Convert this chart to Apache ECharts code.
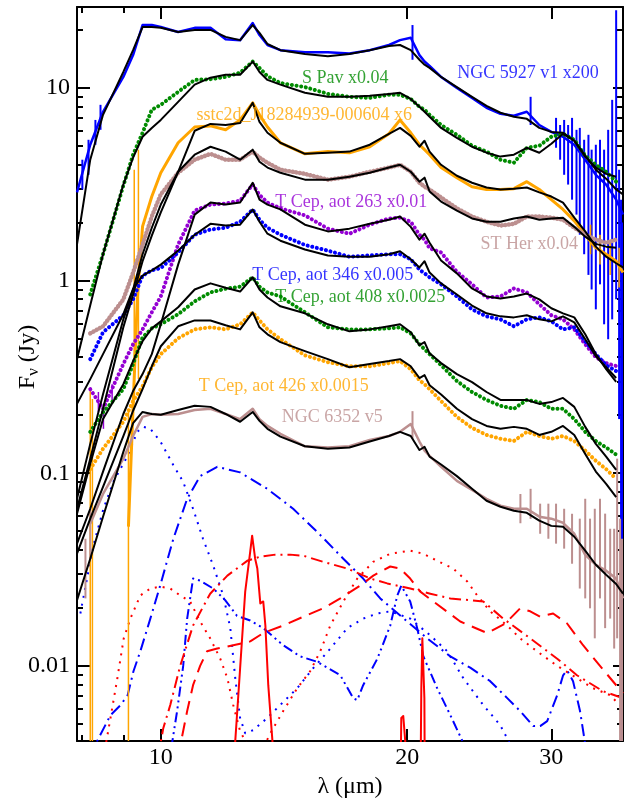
<!DOCTYPE html>
<html>
<head>
<meta charset="utf-8">
<script src="https://cdn.jsdelivr.net/npm/echarts@6/dist/echarts.min.js"></script>
<style>html,body{margin:0;padding:0;background:#fff}#c{width:634px;height:804px}</style>
</head>
<body>
<div id="c"></div>
<script>
// ---------------- data (wavelength in micron, flux in Jy) ----------------
const lamGrid = [7.9, 8.2, 8.5, 9.0, 9.25, 9.5, 9.75, 10, 10.5, 11, 11.5, 12, 12.5, 12.95, 13.2, 13.5, 14, 15, 16, 17, 18, 19, 19.6, 20.2, 20.7, 21.0, 21.3, 22, 23, 24, 25, 26, 27, 28, 29, 30, 31, 32, 33, 34, 35, 36, 36.7];

const ngc5927Data = [2.87, 5.07, 7.52, 11.4, 14.8, 21.2, 21.2, 20.7, 19.5, 20.5, 20.5, 17.9, 17.7, 21.7, 18.8, 16.7, 15.7, 15.3, 15.3, 15.1, 15.7, 16.7, 17.7, 18.2, 14.8, 13.7, 13.0, 11.4, 10.0, 8.88, 7.88, 7.34, 7.17, 7.52, 6.42, 5.91, 5.58, 5.07, 4.24, 3.54, 3.15, 2.63, 2.20];
const ngc5927Model = [1.54, 4.24, 7.25, 12.1, 15.7, 20.7, 20.7, 20.5, 19.5, 20.0, 20.0, 18.4, 17.7, 21.2, 19.3, 16.9, 15.7, 15.0, 14.6, 15.0, 15.7, 16.5, 16.7, 15.7, 14.0, 13.2, 12.7, 11.4, 10.1, 8.99, 8.07, 7.43, 7.08, 6.91, 6.20, 5.91, 5.85, 5.32, 4.45, 3.76, 3.38, 2.97, 2.80];
const sPavData = [null, 0.847, 1.37, 3.11, 4.50, 5.85, 7.70, 8.17, 9.54, 11.0, 11.1, 11.4, 12.0, 13.7, 12.7, 11.5, 10.6, 10.1, 9.31, 8.99, 8.88, 9.21, 9.21, 8.77, 7.98, 7.70, 7.25, 6.42, 5.71, 5.01, 4.67, 4.24, 4.09, 4.89, 5.01, 5.58, 5.78, 5.38, 4.45, 3.99, 3.67, 3.26, null];
const sPavModel = [0.39, 0.744, 1.37, 3.15, 4.35, 5.58, 6.20, 6.82, 8.46, 10.4, 11.3, 11.7, 11.7, 13.7, 12.1, 11.0, 10.4, 9.43, 8.99, 8.99, 9.10, 9.31, 9.43, 8.77, 7.98, 7.52, 7.08, 6.20, 5.51, 4.95, 4.61, 4.40, 4.50, 4.89, 4.61, 5.13, 5.78, 5.32, 4.40, 3.86, 3.58, 3.46, null];
const sstc2dLeadLam = [9.13, 9.36];
const sstc2dLeadFlux = [0.0528, 0.799];
const sstc2dData = [null, null, null, null, null, 1.91, 2.73, 3.63, 5.19, 6.27, 6.35, 6.06, 6.82, 8.37, 7.25, 6.27, 5.19, 4.55, 4.67, 4.61, 4.95, 5.78, 6.82, 5.85, 5.07, 4.78, 4.50, 3.86, 3.42, 3.07, 2.97, 2.97, 3.00, 3.26, 2.97, 2.63, 2.34, 2.04, 1.73, 1.48, 1.37, 1.26, 1.10];
const sstc2dModel = [0.0654, 0.119, 0.216, 0.572, 0.847, 1.26, 1.71, 2.26, 3.67, 5.99, 6.50, 6.42, 6.58, 8.37, 6.66, 5.85, 5.19, 4.55, 4.61, 4.67, 5.07, 5.78, 6.20, 5.64, 4.95, 5.32, 4.67, 3.99, 3.50, 3.22, 3.04, 2.97, 3.00, 3.04, 2.87, 2.73, 2.54, 2.12, 1.80, 1.50, 1.33, 1.23, 1.17];
const stHerData = [null, 0.532, 0.579, 0.799, 1.10, 1.54, 2.15, 2.80, 3.63, 4.24, 4.55, 4.24, 4.24, 4.67, 4.35, 4.09, 3.76, 3.58, 3.34, 3.46, 3.67, 3.86, 3.99, 3.67, 3.22, 3.07, 2.97, 2.70, 2.37, 2.15, 2.02, 1.93, 1.97, 2.15, 2.15, 2.12, 2.07, 1.88, 1.73, 1.63, 1.57, 1.63, null];
const stHerModel = [0.0737, 0.142, 0.257, 0.629, 0.899, 1.37, 1.88, 2.48, 3.67, 4.50, 4.95, 4.67, 4.24, 4.78, 4.14, 3.86, 3.63, 3.34, 3.34, 3.46, 3.63, 3.86, 3.99, 3.67, 3.26, 3.42, 2.90, 2.57, 2.31, 2.10, 2.02, 2.02, 2.10, 2.15, 2.07, 2.10, 2.12, 1.90, 1.69, 1.55, 1.50, 1.48, null];
const tCep263Data = [null, 0.273, 0.216, 0.369, 0.467, 0.558, 0.684, 0.827, 1.54, 2.31, 2.48, 2.51, 2.60, 3.15, 2.78, 2.54, 2.37, 2.18, 1.86, 1.75, 1.95, 2.10, 2.12, 2.02, 1.73, 1.63, 1.47, 1.40, 1.11, 0.956, 0.817, 0.827, 0.910, 0.868, 0.753, 0.661, 0.629, 0.558, 0.467, 0.400, 0.373, 0.360, null];
const tCep263Model = [0.0431, 0.0654, 0.102, 0.203, 0.267, 0.327, 0.415, 0.593, 1.21, 2.20, 2.54, 2.48, 2.54, 3.22, 2.63, 2.48, 2.34, 1.95, 1.80, 1.86, 1.97, 2.07, 2.15, 1.90, 1.63, 1.75, 1.57, 1.27, 1.09, 0.910, 0.827, 0.808, 0.827, 0.856, 0.799, 0.718, 0.676, 0.644, 0.526, 0.415, 0.347, 0.298, null];
const tCep346Data = [null, 0.391, 0.539, 0.661, 0.799, 1.06, 1.13, 1.16, 1.40, 1.73, 1.84, 1.88, 2.02, 2.34, 2.07, 1.88, 1.73, 1.53, 1.43, 1.33, 1.35, 1.37, 1.37, 1.29, 1.14, 1.09, 1.04, 0.956, 0.827, 0.709, 0.652, 0.629, 0.579, 0.629, 0.644, 0.614, 0.558, 0.572, 0.484, 0.415, 0.364, 0.339, null];
const tCep346Model = [0.229, 0.308, 0.415, 0.669, 0.907, 1.06, 1.13, 1.21, 1.43, 1.73, 1.97, 1.93, 1.95, 2.34, 2.02, 1.75, 1.61, 1.45, 1.35, 1.33, 1.33, 1.37, 1.42, 1.29, 1.17, 1.26, 1.10, 0.967, 0.847, 0.742, 0.676, 0.652, 0.644, 0.661, 0.629, 0.614, 0.652, 0.607, 0.496, 0.405, 0.355, 0.312, null];
const tCep408Data = [null, 0.164, 0.207, 0.273, 0.369, 0.507, 0.565, 0.593, 0.669, 0.780, 0.868, 0.907, 0.929, 1.04, 0.929, 0.868, 0.827, 0.684, 0.572, 0.558, 0.558, 0.565, 0.572, 0.532, 0.467, 0.440, 0.415, 0.364, 0.301, 0.264, 0.240, 0.224, 0.216, 0.240, 0.234, 0.216, 0.216, 0.191, 0.164, 0.147, 0.136, 0.125, null];
const tCep408Model = [0.0616, 0.112, 0.191, 0.290, 0.382, 0.484, 0.565, 0.614, 0.727, 0.899, 0.967, 0.918, 0.877, 1.04, 0.899, 0.817, 0.735, 0.676, 0.593, 0.545, 0.558, 0.579, 0.593, 0.539, 0.462, 0.479, 0.419, 0.373, 0.327, 0.297, 0.264, 0.240, 0.240, 0.240, 0.229, 0.234, 0.246, 0.221, 0.174, 0.142, 0.122, 0.104, null];
const tCep426Data = [null, 0.105, 0.134, 0.185, 0.237, 0.283, 0.355, 0.415, 0.502, 0.558, 0.572, 0.558, 0.593, 0.684, 0.621, 0.558, 0.496, 0.409, 0.377, 0.359, 0.359, 0.373, 0.382, 0.347, 0.304, 0.290, 0.273, 0.237, 0.196, 0.172, 0.158, 0.151, 0.147, 0.164, 0.156, 0.151, 0.156, 0.147, 0.131, 0.116, 0.105, 0.0935, null];
const tCep426Model = [0.0383, 0.0581, 0.0850, 0.156, 0.211, 0.273, 0.359, 0.456, 0.579, 0.621, 0.621, 0.586, 0.558, 0.684, 0.572, 0.526, 0.479, 0.430, 0.391, 0.355, 0.369, 0.382, 0.391, 0.359, 0.312, 0.323, 0.286, 0.256, 0.216, 0.191, 0.176, 0.170, 0.174, 0.170, 0.158, 0.164, 0.176, 0.158, 0.126, 0.102, 0.0881, 0.0752, null];
const ngc6352Data = [null, 0.0547, 0.0781, 0.119, 0.156, 0.196, 0.203, 0.201, 0.203, 0.213, 0.216, 0.203, 0.191, 0.216, 0.191, 0.176, 0.160, 0.138, 0.136, 0.138, 0.149, 0.156, 0.164, 0.180, 0.146, 0.131, 0.123, 0.108, 0.0913, 0.0820, 0.0737, 0.0679, 0.0654, 0.0654, 0.0595, 0.0581, 0.0553, 0.0485, 0.0377, 0.0335, 0.0312, 0.0284, 0.0224];
const ngc6352Model = [0.0219, 0.0360, 0.0594, 0.129, 0.182, 0.208, 0.203, 0.201, 0.213, 0.224, 0.221, 0.203, 0.185, 0.208, 0.187, 0.170, 0.155, 0.138, 0.134, 0.136, 0.146, 0.156, 0.164, 0.156, 0.132, 0.137, 0.122, 0.111, 0.0966, 0.0830, 0.0720, 0.0670, 0.0638, 0.0623, 0.0567, 0.0533, 0.0527, 0.0468, 0.0396, 0.0335, 0.0297, 0.0266, 0.0237];

// error bars: wavelength, low, high
const ngc5927ErrLam = [8.02, 8.16, 8.32, 8.44, 20.3, 28.3, 30.4, 30.75, 31.1, 31.45, 31.8, 32.2, 32.5, 32.9, 33.3, 33.6, 34.0, 34.4, 34.8, 35.2, 35.6, 36.0, 36.3, 36.5, 36.6];
const ngc5927ErrLo = [2.97, 3.54, 5.07, 6.06, 14.0, 6.42, 4.89, 4.24, 3.54, 3.15, 2.63, 2.20, 1.73, 1.37, 1.07, 0.899, 0.709, 0.956, 0.593, 0.496, 0.629, 0.799, 0.191, 0.003, 0.003];
const ngc5927ErrHi = [4.24, 5.38, 6.82, 8.17, 21.2, 8.99, 6.99, 6.42, 6.82, 6.42, 6.99, 6.06, 6.20, 5.38, 5.71, 4.78, 5.07, 5.38, 4.78, 6.06, 8.67, 25.3, 3.76, 2.63, 2.0];
const sstc2dErrLam = [8.20, 8.25, 9.13, 9.28, 9.39, 33.5, 34.4, 35.4, 36.3];
const sstc2dErrLo = [0.003, 0.003, 0.003, 0.347, 0.308, 1.37, 1.21, 1.07, 0.92];
const sstc2dErrHi = [0.273, 0.243, 0.216, 3.76, 4.78, 1.95, 1.73, 1.63, 1.48];
const ngc6352ErrLam = [8.09, 8.20, 20.3, 27.5, 28.3, 29.07, 29.75, 30.4, 31.1, 31.8, 32.5, 33.0, 33.45, 33.9, 34.4, 34.9, 35.4, 35.8, 36.1, 36.4, 36.6];
const ngc6352ErrLo = [0.0224, 0.036, 0.151, 0.055, 0.058, 0.0485, 0.0457, 0.0431, 0.0406, 0.0339, 0.0252, 0.0224, 0.0199, 0.0139, 0.0224, 0.0157, 0.0176, 0.0123, 0.0139, 0.003, 0.003];
const ngc6352ErrHi = [0.0457, 0.0654, 0.210, 0.078, 0.083, 0.0695, 0.0695, 0.0695, 0.0654, 0.0616, 0.0581, 0.0737, 0.0581, 0.0654, 0.0737, 0.0617, 0.0515, 0.0515, 0.119, 0.0581, 0.0457];
const tCep263ErrLam = [8.39, 8.51, 8.72];
const tCep263ErrLo = [0.208, 0.170, 0.229];
const tCep263ErrHi = [0.264, 0.229, 0.290];

// model components
const silLam = [7.975, 8.27, 8.51, 8.75, 9.11, 9.36, 9.52, 9.71, 9.99, 10.36, 10.65, 10.95, 11.26, 11.59, 11.92, 12.16, 12.33, 12.50, 12.68, 12.97, 13.49, 13.99, 14.68, 15.35, 16.11, 16.90, 17.67, 18.39, 19.07, 20.17, 21.34, 22.39, 23.42, 24.77, 25.98, 26.87];
const silFlux = [0.0187, 0.0420, 0.0654, 0.0902, 0.123, 0.164, 0.174, 0.170, 0.146, 0.110, 0.0902, 0.0654, 0.0457, 0.0331, 0.0232, 0.0157, 0.00863, 0.00536, 0.00447, 0.00464, 0.00536, 0.00626, 0.00766, 0.00972, 0.0123, 0.0157, 0.0176, 0.0187, 0.0192, 0.0176, 0.0144, 0.0119, 0.00863, 0.00626, 0.00493, 0.00375];
const bdLam = [8.25, 8.36, 8.68, 8.93, 9.11, 9.26, 9.44, 9.71, 9.99, 10.36, 10.77, 11.17, 11.72, 12.50, 13.49, 14.51, 15.52, 16.71, 17.67, 18.54, 20.00, 21.16, 22.58, 23.88, 25.26, 26.50, 27.48, 28.51, 29.07, 29.65, 30.50, 31.01, 31.36, 31.89, 32.52, 32.98];
const bdFlux = [0.00333, 0.00407, 0.00555, 0.00626, 0.00705, 0.00938, 0.0119, 0.0176, 0.0264, 0.0457, 0.0737, 0.0966, 0.108, 0.101, 0.0830, 0.0654, 0.0497, 0.0360, 0.0284, 0.0224, 0.0170, 0.0139, 0.0112, 0.00979, 0.00833, 0.00680, 0.00583, 0.00487, 0.00487, 0.00517, 0.00705, 0.00894, 0.00949, 0.00833, 0.00583, 0.00399];
const bddLam = [10.30, 10.47, 10.65, 10.77, 10.95, 11.17, 11.59, 11.99, 12.39, 12.86, 13.34, 14.11, 14.80, 15.52, 16.57, 17.18, 17.38, 17.67, 18.39, 19.07, 19.45, 19.67, 20.17, 20.57, 20.93, 21.76, 22.58, 23.42, 23.61];
const bddFlux = [0.00375, 0.00583, 0.0100, 0.0176, 0.0284, 0.0277, 0.0252, 0.0219, 0.0182, 0.0172, 0.0157, 0.0128, 0.0112, 0.0105, 0.00894, 0.00680, 0.00664, 0.00794, 0.0109, 0.0162, 0.0232, 0.0261, 0.0216, 0.0157, 0.0112, 0.00766, 0.00555, 0.00398, 0.00333];
const rdotLam = [8.51, 8.68, 8.85, 9.01, 9.18, 9.44, 9.71, 9.99, 10.27, 10.56, 10.86, 11.17, 11.49, 11.82, 12.06, 12.26, 12.50, 12.86, 13.30, 13.61, 14.11, 14.68, 15.22, 15.66, 16.11, 16.71, 17.38, 18.18, 19.07, 20.17, 20.93, 21.76, 22.77, 23.68, 24.35, 25.26, 26.50, 27.48, 28.82, 30.50, 32.24, 33.73, 35.39, 36.70];
const rdotFlux = [0.00333, 0.00536, 0.00863, 0.0139, 0.0176, 0.0232, 0.0252, 0.0258, 0.0252, 0.0232, 0.0216, 0.0170, 0.0139, 0.0109, 0.00863, 0.00626, 0.00458, 0.00366, 0.00366, 0.00447, 0.00583, 0.00766, 0.00938, 0.0119, 0.0162, 0.0216, 0.0284, 0.0347, 0.0382, 0.0396, 0.0382, 0.0351, 0.0320, 0.0274, 0.0232, 0.0192, 0.0162, 0.0139, 0.0119, 0.0100, 0.00863, 0.00766, 0.00705, 0.00600];
const rddLam = [9.92, 10.07, 10.27, 10.56, 10.95, 11.49, 12.06, 12.75, 13.23, 13.80, 14.39, 14.93, 15.79, 16.90, 18.03, 18.91, 20.17, 21.34, 22.58, 24.77, 26.20, 28.27, 30.50, 32.24, 34.69, 36.70];
const rddFlux = [0.00333, 0.00475, 0.00626, 0.0100, 0.0162, 0.0237, 0.0294, 0.0351, 0.0369, 0.0378, 0.0378, 0.0373, 0.0347, 0.0320, 0.0284, 0.0268, 0.0252, 0.0237, 0.0224, 0.0216, 0.0176, 0.0139, 0.0109, 0.00894, 0.00739, 0.00680];
const rdaLam = [10.50, 10.59, 10.77, 10.95, 11.17, 11.39, 11.72, 12.26, 12.86, 13.34, 14.11, 14.93, 15.79, 16.57, 17.52, 18.18, 19.07, 19.61, 20.17, 20.75, 21.52, 23.22, 25.05, 26.35, 27.48, 28.27, 29.07, 30.15, 31.36, 32.80, 34.40, 36.70];
const rdaFlux = [0.00333, 0.00407, 0.00583, 0.00794, 0.0100, 0.0119, 0.0123, 0.0128, 0.0134, 0.0148, 0.0162, 0.0180, 0.0199, 0.0224, 0.0261, 0.0294, 0.0328, 0.0320, 0.0284, 0.0243, 0.0216, 0.0170, 0.0148, 0.0166, 0.0199, 0.0192, 0.0180, 0.0187, 0.0166, 0.0128, 0.0100, 0.00720];
const rsLam = [12.16, 12.33, 12.50, 12.68, 12.86, 12.93, 13.04, 13.12, 13.23, 13.34, 13.42, 13.53, 13.69, 13.85, 19.45, 19.67, 19.78, 19.89, 20.10, 20.63, 20.81, 20.87, 20.93, 20.99, 21.10];
const rsFlux = [0.0001, 0.00407, 0.00972, 0.0243, 0.0392, 0.0474, 0.0360, 0.0320, 0.0211, 0.0216, 0.0162, 0.00794, 0.00407, 0.0001, 0.0001, 0.00536, 0.00549, 0.00407, 0.0001, 0.0001, 0.00766, 0.0139, 0.0139, 0.00680, 0.0001];

// annotations
const labelTexts = ['NGC 5927 v1 x200', 'S Pav x0.04', 'sstc2d_J18284939-000604 x6', 'ST Her x0.04', 'T Cep, aot 263 x0.01', 'T Cep, aot 346 x0.005', 'T Cep, aot 408 x0.0025', 'T Cep, aot 426 x0.0015', 'NGC 6352 v5'];
const labelLam = [28.1, 16.8, 14.97, 28.2, 17.09, 16.22, 17.52, 14.13, 16.20];
const labelFlux = [11.97, 11.27, 7.25, 1.54, 2.54, 1.07, 0.819, 0.283, 0.196];

// axes
const xMin = 7.9, xMax = 36.7, yMin = 0.00407, yMax = 26.3;
const xMajorTicks = [10, 20, 30];
const xTickLabels = ['10', '20', '30'];
const xMinorTicks = [8, 9];
const yMajorTicks = [0.01, 0.1, 1, 10];
const yTickLabels = ['0.01', '0.1', '1', '10'];
const yMinorTicks = [0.005, 0.006, 0.007, 0.008, 0.009, 0.02, 0.03, 0.04, 0.05, 0.06, 0.07, 0.08, 0.09, 0.2, 0.3, 0.4, 0.5, 0.6, 0.7, 0.8, 0.9, 2, 3, 4, 5, 6, 7, 8, 9, 20];

// ---------------- styles ----------------
const FONT = 'Liberation Serif';
const C = { blue: '#0000ff', green: '#008b00', orange: '#ffa500', brown: '#bc8f8f', purple: '#9400d3', red: '#ff0000', black: '#000000' };
const labelColors = [C.blue, C.green, C.orange, C.brown, C.purple, C.blue, C.green, C.orange, C.brown];

function zip(lam, flux) {
  const out = [];
  for (let i = 0; i < lam.length; i++) if (flux[i] != null) out.push([lam[i], flux[i]]);
  return out;
}
function line(data, color, width, type, z, cap) {
  return { type: 'line', data, showSymbol: false, symbol: 'none', clip: true, silent: true, z: z,
    lineStyle: { color, width, type: type || 'solid', cap: cap || 'butt', join: 'round' }, animation: false };
}
const DOT = [0.1, 4.6];
function errSeries(lam, lo, hi, color, width, z) {
  return { type: 'custom', z: z, silent: true, clip: true, animation: false,
    data: lam.map((l, i) => [l, lo[i], hi[i]]),
    encode: { x: 0, y: [1, 2] },
    renderItem: function (params, api) {
      const p1 = api.coord([api.value(0), api.value(1)]);
      const p2 = api.coord([api.value(0), api.value(2)]);
      const cs = params.coordSys;
      const cy = v => Math.max(cs.y, Math.min(cs.y + cs.height, v));
      return { type: 'line', shape: { x1: p1[0], y1: cy(p1[1]), x2: p2[0], y2: cy(p2[1]) },
        style: { stroke: color, lineWidth: width } };
    } };
}

const series = [
  // components
  line(zip(silLam, silFlux), C.blue, 2, [2, 6], 2),
  line(zip(bdLam, bdFlux), C.blue, 2, [12, 5, 2, 5], 2),
  line(zip(bddLam, bddFlux), C.blue, 2, [10, 4, 2, 4, 2, 4], 2),
  line(zip(rdotLam, rdotFlux), C.red, 2, [2, 6], 2),
  line(zip(rddLam, rddFlux), C.red, 2, [12, 5, 2, 5], 2),
  line(zip(rdaLam, rdaFlux), C.red, 2, [14, 8], 2),
  line(zip(rsLam, rsFlux), C.red, 2, 'solid', 2),
  // error bars
  errSeries(ngc5927ErrLam, ngc5927ErrLo, ngc5927ErrHi, C.blue, 2, 3),
  errSeries(sstc2dErrLam, sstc2dErrLo, sstc2dErrHi, C.orange, 1.5, 3),
  errSeries(ngc6352ErrLam, ngc6352ErrLo, ngc6352ErrHi, C.brown, 2, 3),
  errSeries(tCep263ErrLam, tCep263ErrLo, tCep263ErrHi, C.purple, 1.5, 3),
  // observed spectra
  line(zip(lamGrid, ngc5927Data), C.blue, 2.5, 'solid', 4),
  line(zip(lamGrid, sPavData), C.green, 4, DOT, 4, 'round'),
  line(zip(sstc2dLeadLam, sstc2dLeadFlux).concat(zip(lamGrid, sstc2dData)), C.orange, 3, 'solid', 4),
  line(zip(lamGrid, stHerData), C.brown, 4.5, [0.1, 3.5], 4, 'round'),
  line(zip(lamGrid, tCep263Data), C.purple, 4, DOT, 4, 'round'),
  line(zip(lamGrid, tCep346Data), C.blue, 4, DOT, 4, 'round'),
  line(zip(lamGrid, tCep408Data), C.green, 4, DOT, 4, 'round'),
  line(zip(lamGrid, tCep426Data), C.orange, 4, DOT, 4, 'round'),
  line(zip(lamGrid, ngc6352Data), C.brown, 2.5, 'solid', 4),
  // models
  line(zip(lamGrid, ngc5927Model), C.black, 2, 'solid', 5),
  line(zip(lamGrid, sPavModel), C.black, 2, 'solid', 5),
  line(zip(lamGrid, sstc2dModel), C.black, 2, 'solid', 5),
  line(zip(lamGrid, stHerModel), C.black, 2, 'solid', 5),
  line(zip(lamGrid, tCep263Model), C.black, 2, 'solid', 5),
  line(zip(lamGrid, tCep346Model), C.black, 2, 'solid', 5),
  line(zip(lamGrid, tCep408Model), C.black, 2, 'solid', 5),
  line(zip(lamGrid, tCep426Model), C.black, 2, 'solid', 5),
  line(zip(lamGrid, ngc6352Model), C.black, 2, 'solid', 5),
  // labels
  { type: 'scatter', z: 6, silent: true, animation: false, symbolSize: 0.1,
    itemStyle: { color: 'rgba(0,0,0,0)' },
    data: labelTexts.map((t, i) => ({ value: [labelLam[i], labelFlux[i]],
      label: { show: true, position: 'inside', formatter: t, color: labelColors[i], fontSize: 18, fontFamily: FONT } })) }
];

function fmt(ticks, labels) {
  return v => { for (let i = 0; i < ticks.length; i++) if (Math.abs(Math.log10(ticks[i]) - Math.log10(v)) < 1e-6) return labels[i]; return ''; };
}
const axisLineStyle = { show: true, lineStyle: { color: '#000', width: 2 } };
function xAx(pos, ticks, len, showLabel, showLine) {
  return { type: 'log', logBase: 10, min: xMin, max: xMax, position: pos, gridIndex: 0,
    axisLine: showLine ? axisLineStyle : { show: false },
    axisTick: { show: true, inside: true, length: len, customValues: ticks, lineStyle: { color: '#000', width: 2 } },
    axisLabel: showLabel ? { show: true, customValues: xMajorTicks, formatter: fmt(xMajorTicks, xTickLabels), fontSize: 24, fontFamily: FONT, color: '#000', margin: 5 } : { show: false },
    splitLine: { show: false }, minorTick: { show: false } };
}
function yAx(pos, ticks, len, showLabel, showLine) {
  return { type: 'log', logBase: 10, min: yMin, max: yMax, position: pos, gridIndex: 0,
    axisLine: showLine ? axisLineStyle : { show: false },
    axisTick: { show: true, inside: true, length: len, customValues: ticks, lineStyle: { color: '#000', width: 2 } },
    axisLabel: showLabel ? { show: true, customValues: yMajorTicks, formatter: fmt(yMajorTicks, yTickLabels), fontSize: 24, fontFamily: FONT, color: '#000', margin: 7 } : { show: false },
    splitLine: { show: false }, minorTick: { show: false } };
}
const xAxes = [xAx('bottom', xMajorTicks, 12, true, true), xAx('bottom', xMinorTicks, 6, false, false), xAx('top', xMajorTicks, 12, false, true), xAx('top', xMinorTicks, 6, false, false)];
xAxes[0].name = 'λ (μm)';
xAxes[0].nameLocation = 'middle';
xAxes[0].nameGap = 29;
xAxes[0].nameTextStyle = { fontSize: 24, fontFamily: FONT, color: '#000' };
const yAxes = [yAx('left', yMajorTicks, 13, true, true), yAx('left', yMinorTicks, 6, false, false), yAx('right', yMajorTicks, 10, false, true), yAx('right', yMinorTicks, 6, false, false)];

const chart = echarts.init(document.getElementById('c'), null, { renderer: 'canvas' });
chart.setOption({
  backgroundColor: '#fff',
  animation: false,
  grid: { left: 77, right: 11, top: 7, bottom: 61, containLabel: false },
  xAxis: xAxes,
  yAxis: yAxes,
  series: series,
  graphic: [{ type: 'text', x: 28, y: 357, rotation: Math.PI / 2, silent: true,
    style: { text: '{a|F}{b|ν}{a| (Jy)}', align: 'center', verticalAlign: 'middle', textAlign: 'center', textVerticalAlign: 'middle', fill: '#000',
      rich: { a: { fontSize: 24, fontFamily: FONT, fill: '#000', color: '#000' }, b: { fontSize: 17, fontFamily: FONT, fill: '#000', color: '#000', padding: [12, 0, 0, 0] } } } }]
});
</script>
</body>
</html>
